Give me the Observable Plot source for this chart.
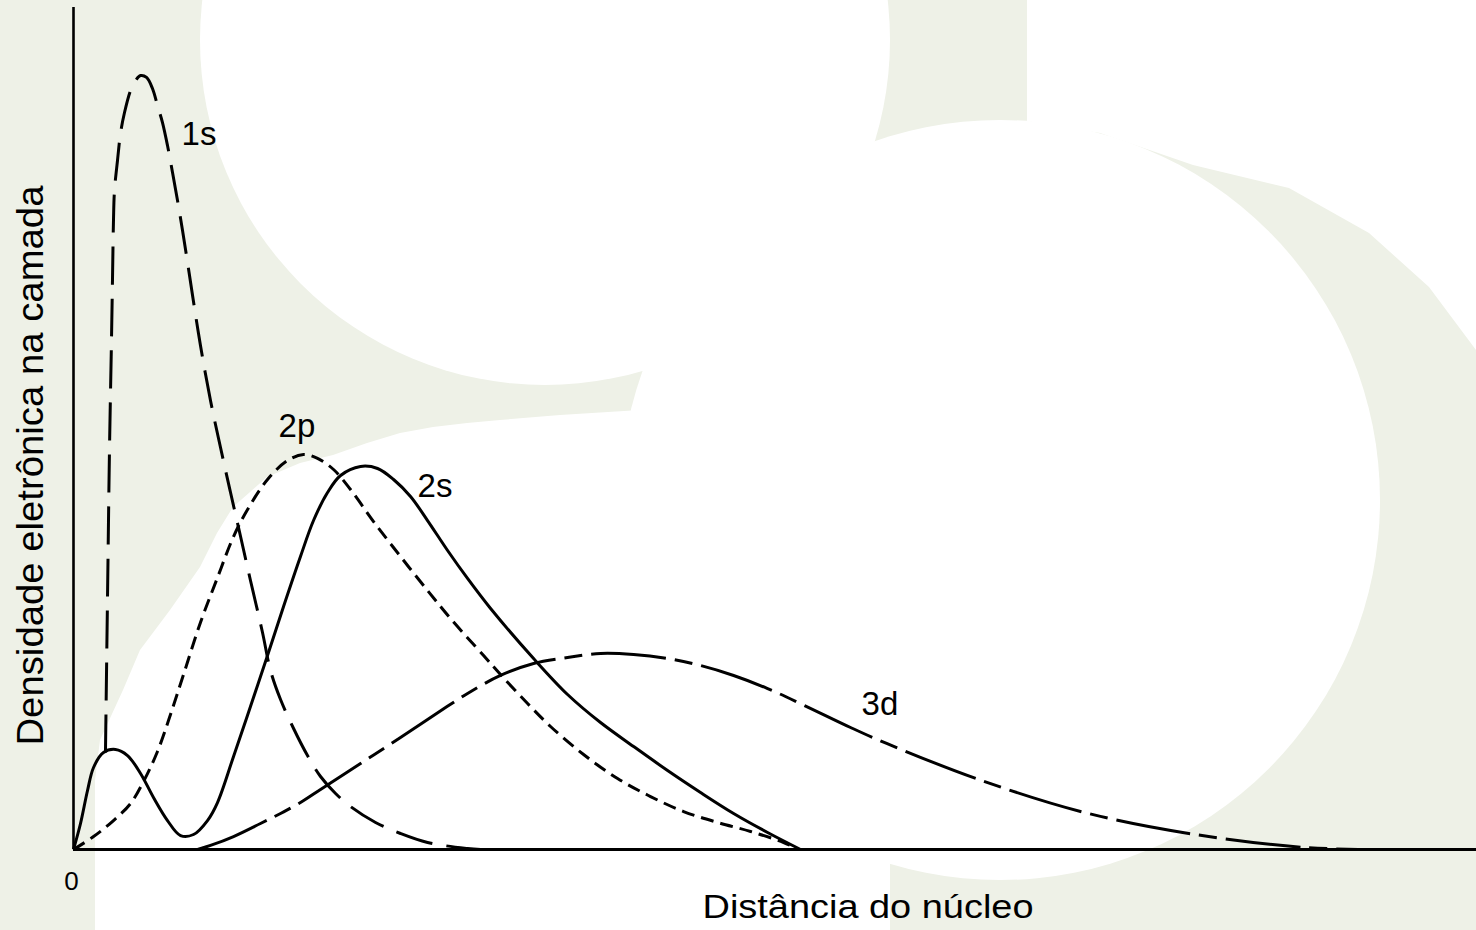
<!DOCTYPE html>
<html>
<head>
<meta charset="utf-8">
<script src="https://cdn.jsdelivr.net/npm/d3@7"></script>
<script src="https://cdn.jsdelivr.net/npm/@observablehq/plot@0.6"></script>
<style>
  html, body { margin: 0; padding: 0; background: #ffffff; }
  #wrap { position: relative; width: 1476px; height: 930px; overflow: hidden; }
  #bg { position: absolute; left: 0; top: 0; }
  #chart { position: absolute; left: 0; top: 0; }
</style>
</head>
<body>
<div id="wrap">
  <svg id="bg" width="1476" height="930" viewBox="0 0 1476 930">
    <rect width="1476" height="930" fill="#eef1e7"/>
    <circle cx="545" cy="40" r="345" fill="#ffffff"/>
    <circle cx="1000" cy="500" r="380" fill="#ffffff"/>
    <polygon fill="#ffffff" points="1027,0 1476,0 1476,350 1429,287 1369,233 1289,188 1193,165 1100,133 1027,121"/>
    <polygon fill="#ffffff" points="95,930 95,780 100,740 123,690 140,650 170,610 200,567 217,533 233,507 267,477 300,463 333,455 367,443 400,433 433,427 467,423 500,420 560,415 640,410 760,420 890,860 890,930"/>
  </svg>
  <div id="chart"></div>
</div>
<script>
// Radial electron density (arbitrary units): [distance from nucleus, density]
const s1 = [
  [0.319,1.152],[0.339,2.957],[0.359,4.739],[0.379,6.045],[0.389,6.758],[0.399,7.470],
  [0.409,7.827],[0.439,8.183],[0.469,8.504],[0.509,8.753],[0.569,9.014],[0.619,9.133],
  [0.669,9.192],[0.729,9.169],[0.788,9.038],[0.838,8.836],[0.888,8.634],[0.938,8.361],
  [0.988,8.040],[1.038,7.708],[1.088,7.352],[1.138,6.971],[1.188,6.580],[1.267,5.986],
  [1.367,5.333],[1.467,4.774],[1.567,4.240],[1.667,3.717],[1.766,3.195],[1.886,2.577],
  [1.966,2.126],[2.066,1.781],[2.196,1.437],[2.335,1.116],[2.465,0.867],[2.615,0.665],
  [2.764,0.511],[3.014,0.321],[3.263,0.190],[3.533,0.083],[3.932,0.012],[4.062,0]
];
const s2 = [
  [0,0],[0.070,0.309],[0.140,0.701],[0.200,0.974],[0.299,1.152],[0.419,1.188],[0.539,1.116],
  [0.669,0.903],[0.798,0.618],[0.938,0.344],[1.068,0.166],[1.198,0.178],[1.337,0.344],
  [1.437,0.558],[1.597,1.105],[1.766,1.698],[1.936,2.304],[2.096,2.886],[2.265,3.480],
  [2.395,3.907],[2.535,4.240],[2.665,4.442],[2.864,4.549],[3.034,4.525],[3.194,4.394],
  [3.363,4.192],[3.533,3.907],[3.733,3.551],[3.932,3.219],[4.162,2.862],[4.591,2.268],
  [4.930,1.841],[5.259,1.508],[5.589,1.223],[5.928,0.938],[6.257,0.677],[6.587,0.428],
  [6.926,0.202],[7.255,0]
];
const p2 = [
  [0,0],[0.200,0.154],[0.399,0.344],[0.569,0.546],[0.699,0.808],[0.838,1.164],[0.968,1.603],
  [1.098,2.078],[1.267,2.696],[1.437,3.230],[1.597,3.717],[1.737,4.038],[1.936,4.394],
  [2.136,4.620],[2.295,4.691],[2.435,4.644],[2.595,4.513],[2.764,4.276],[2.994,3.895],
  [3.263,3.480],[3.533,3.076],[3.762,2.743],[4.092,2.304],[4.261,2.078],[4.531,1.734],
  [4.760,1.461],[5.090,1.128],[5.429,0.843],[5.758,0.629],[6.088,0.451],[6.427,0.321],
  [6.756,0.214],[7.086,0.083],[7.236,0]
];
const d3v = [
  [1.238,0],[1.367,0.048],[1.597,0.154],[1.866,0.309],[2.066,0.428],[2.265,0.558],
  [2.465,0.713],[2.864,1.021],[3.263,1.330],[3.593,1.591],[3.932,1.853],[4.261,2.067],
  [4.591,2.209],[4.930,2.280],[5.259,2.328],[5.589,2.316],[5.928,2.268],[6.257,2.185],
  [6.587,2.067],[6.926,1.912],[7.295,1.710],[7.754,1.449],[8.114,1.259],[9.062,0.819],
  [10.090,0.439],[11.128,0.190],[12.285,0.024],[13.044,0]
];
const curveLabels = [
  {name: "1s", x: 1.078, y: 8.487},
  {name: "2p", x: 2.046, y: 5.019},
  {name: "2s", x: 3.433, y: 4.306},
  {name: "3d", x: 7.864, y: 1.717}
];
const tickLabels = [{x: 0, y: 0, label: "0"}];
const xLabel = [{x: 7.928, y: 0, label: "Distância do núcleo"}];
const yLabel = [{x: 0, y: 4.56, label: "Densidade eletrônica na camada"}];

const lineOpts = {x: d => d[0], y: d => d[1], stroke: "black", strokeWidth: 3, curve: "catmull-rom", strokeLinecap: "butt"};

const chart = Plot.plot({
  width: 1476,
  height: 930,
  marginLeft: 73,
  marginRight: 0,
  marginTop: 7,
  marginBottom: 81,
  x: {domain: [0, 14], axis: null},
  y: {domain: [0, 10], axis: null},
  style: {background: "transparent", fontFamily: "'Liberation Sans', Arial, sans-serif", color: "black"},
  marks: [
    Plot.line(s1, {...lineOpts, strokeDasharray: "38,14"}),
    Plot.line(p2, {...lineOpts, strokeDasharray: "13,7"}),
    Plot.line(s2, {...lineOpts}),
    Plot.line(d3v, {...lineOpts, strokeDasharray: "75,9,18,9"}),
    Plot.ruleY([0], {stroke: "black", strokeWidth: 3}),
    Plot.ruleX([0], {stroke: "black", strokeWidth: 2.6}),
    Plot.text(curveLabels, {x: "x", y: "y", text: "name", textAnchor: "start", fontSize: 33, fill: "black"}),
    Plot.text(tickLabels, {x: "x", y: "y", text: "label", dx: -2, dy: 32, fontSize: 26, fill: "black"}),
    Plot.text(xLabel, {x: "x", y: "y", text: "label", dy: 58, fontSize: 33, fill: "black"}),
    Plot.text(yLabel, {x: "x", y: "y", text: "label", dx: -42, rotate: -90, fontSize: 36, fill: "black"})
  ]
});
document.getElementById("chart").appendChild(chart);

// stretch axis titles horizontally like the reference's wide lettering
d3.select(chart).selectAll("text").each(function() {
  const t = this.textContent;
  if (t === xLabel[0].label) { this.setAttribute("textLength", 331); this.setAttribute("lengthAdjust", "spacingAndGlyphs"); }
  if (t === yLabel[0].label) { this.setAttribute("textLength", 560); this.setAttribute("lengthAdjust", "spacingAndGlyphs"); }
});
</script>
</body>
</html>
